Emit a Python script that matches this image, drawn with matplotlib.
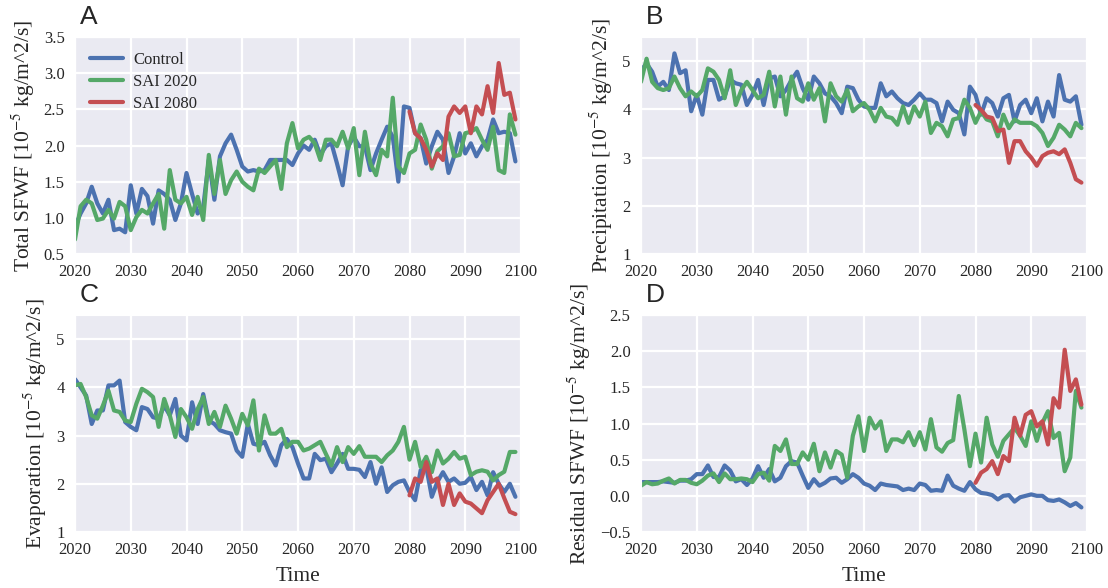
import numpy as np
import matplotlib
matplotlib.use("Agg")
import matplotlib.pyplot as plt
import seaborn as sns

years = np.arange(2020, 2100)
years_late = np.arange(2080, 2100)

# Panel A: Total SFWF
total_control = [0.88, 1.06, 1.20, 1.43, 1.20, 1.06, 1.25, 0.83, 0.85, 0.80,
                 1.45, 1.06, 1.40, 1.30, 0.92, 1.38, 1.33, 1.25, 0.97, 1.20,
                 1.62, 1.33, 1.06, 1.15, 1.80, 1.25, 1.85, 2.03, 2.15, 1.94,
                 1.71, 1.64, 1.66, 1.64, 1.66, 1.80, 1.80, 1.80, 1.80, 1.73,
                 1.89, 2.00, 1.94, 2.08, 1.87, 1.99, 2.03, 1.75, 1.45, 1.99,
                 2.12, 1.99, 1.99, 1.66, 1.89, 2.08, 2.26, 2.12, 1.50, 2.54,
                 2.52, 2.17, 2.10, 1.75, 1.99, 2.19, 2.08, 1.62, 1.85, 2.17,
                 1.89, 2.03, 1.85, 1.99, 2.08, 2.36, 2.17, 2.19, 2.17, 1.78]
total_sai2020 = [0.70, 1.16, 1.25, 1.20, 0.97, 0.99, 1.11, 0.99, 1.22, 1.16,
                 0.83, 1.01, 1.11, 1.06, 1.20, 1.33, 0.85, 1.66, 1.25, 1.20,
                 1.29, 1.04, 1.29, 0.97, 1.87, 1.33, 1.80, 1.33, 1.52, 1.64,
                 1.50, 1.43, 1.38, 1.68, 1.62, 1.71, 1.80, 1.40, 2.03, 2.31,
                 1.96, 2.08, 2.12, 2.03, 1.80, 2.08, 2.08, 1.99, 2.19, 1.96,
                 2.24, 1.59, 2.19, 1.75, 1.59, 1.94, 1.85, 2.66, 1.71, 1.62,
                 1.89, 1.94, 2.29, 2.08, 1.68, 1.92, 1.99, 2.17, 1.85, 1.87,
                 2.17, 2.19, 2.24, 2.08, 1.94, 2.26, 1.66, 1.62, 2.43, 2.15]
total_sai2080 = [2.47, 2.17, 2.10, 1.94, 1.71, 1.89, 1.80, 2.40, 2.54, 2.45,
                 2.54, 2.17, 2.54, 2.43, 2.82, 2.45, 3.14, 2.70, 2.73, 2.36]

# Panel B: Precipitation
precip_control = [4.81, 4.95, 4.78, 4.47, 4.57, 4.40, 5.16, 4.75, 4.81, 3.96,
                  4.30, 3.89, 4.61, 4.61, 4.20, 4.27, 4.61, 4.54, 4.51, 4.09,
                  4.30, 4.61, 4.09, 4.64, 4.68, 4.27, 4.40, 4.61, 4.78, 4.44,
                  4.20, 4.68, 4.54, 4.33, 4.27, 4.13, 3.92, 4.47, 4.44, 4.20,
                  4.06, 4.03, 4.03, 4.54, 4.27, 4.37, 4.23, 4.13, 4.09, 4.20,
                  4.33, 4.20, 4.20, 4.13, 3.75, 4.16, 3.99, 3.92, 3.48, 4.47,
                  4.30, 3.89, 4.23, 4.13, 3.85, 4.23, 4.30, 3.75, 4.09, 4.20,
                  3.92, 4.23, 3.75, 4.16, 3.85, 4.71, 4.20, 4.16, 4.27, 3.68]
precip_sai2020 = [4.57, 5.05, 4.57, 4.44, 4.40, 4.44, 4.68, 4.44, 4.27, 4.37,
                  4.27, 4.40, 4.85, 4.78, 4.61, 4.23, 4.81, 4.09, 4.40, 4.57,
                  4.40, 4.23, 4.30, 4.78, 4.06, 4.68, 3.89, 4.68, 4.23, 4.16,
                  4.54, 4.20, 4.44, 3.75, 4.54, 4.27, 4.16, 4.40, 3.96, 4.06,
                  4.13, 3.99, 3.75, 4.03, 3.85, 3.82, 3.68, 4.06, 3.72, 4.06,
                  3.85, 4.16, 3.51, 3.72, 3.65, 3.44, 3.79, 3.82, 4.20, 4.03,
                  3.72, 3.96, 3.79, 3.75, 3.44, 3.89, 3.61, 3.79, 3.72, 3.72,
                  3.72, 3.65, 3.51, 3.24, 3.41, 3.68, 3.58, 3.44, 3.72, 3.61]
precip_sai2080 = [4.09, 3.99, 3.85, 3.82, 3.55, 3.58, 2.89, 3.34, 3.34, 3.13,
                  3.00, 2.83, 3.03, 3.10, 3.13, 3.07, 3.17, 2.89, 2.55, 2.48]

# Panel C: Evaporation
evap_control = [4.17, 4.00, 3.83, 3.24, 3.52, 3.52, 4.04, 4.04, 4.14, 3.28,
                3.18, 3.11, 3.59, 3.55, 3.38, 3.35, 3.62, 3.42, 3.76, 3.00,
                2.90, 3.69, 3.24, 3.86, 3.31, 3.24, 3.11, 3.07, 3.04, 2.69,
                2.56, 3.24, 2.83, 2.80, 2.87, 2.59, 2.38, 2.80, 2.93, 2.76,
                2.42, 2.11, 2.11, 2.62, 2.49, 2.52, 2.24, 2.42, 2.62, 2.31,
                2.31, 2.29, 2.14, 2.45, 2.00, 2.34, 1.83, 1.97, 2.04, 2.07,
                1.83, 1.66, 2.28, 2.35, 1.73, 2.04, 2.24, 2.04, 2.11, 2.00,
                2.02, 2.14, 1.87, 2.04, 1.76, 2.24, 2.00, 1.83, 2.00, 1.73]
evap_sai2020 = [4.04, 4.07, 3.80, 3.42, 3.35, 3.62, 3.93, 3.52, 3.49, 3.31,
                3.28, 3.66, 3.97, 3.90, 3.80, 3.18, 3.76, 3.42, 2.97, 3.55,
                3.38, 3.14, 3.55, 3.80, 3.24, 3.49, 3.18, 3.62, 3.35, 3.04,
                3.45, 3.21, 3.73, 2.69, 3.42, 3.04, 3.04, 3.14, 2.76, 2.87,
                2.87, 2.69, 2.73, 2.80, 2.87, 2.62, 2.38, 2.76, 2.45, 2.76,
                2.62, 2.78, 2.56, 2.56, 2.56, 2.45, 2.59, 2.69, 2.87, 3.18,
                2.50, 2.87, 2.35, 2.56, 2.24, 2.69, 2.42, 2.52, 2.66, 2.52,
                2.56, 2.18, 2.25, 2.28, 2.25, 2.07, 2.18, 2.25, 2.66, 2.66]
evap_sai2080 = [1.76, 2.11, 2.04, 2.45, 2.04, 2.11, 1.56, 2.00, 1.56, 1.80,
                1.63, 1.59, 1.49, 1.39, 1.66, 1.83, 2.00, 1.70, 1.42, 1.37]

# Panel D: Residual SFWF
resid_control = [0.19, 0.19, 0.19, 0.19, 0.20, 0.19, 0.18, 0.21, 0.21, 0.23,
                 0.30, 0.30, 0.42, 0.26, 0.26, 0.42, 0.35, 0.20, 0.23, 0.15,
                 0.24, 0.41, 0.25, 0.37, 0.20, 0.25, 0.41, 0.48, 0.46, 0.28,
                 0.11, 0.23, 0.14, 0.18, 0.24, 0.25, 0.18, 0.23, 0.30, 0.25,
                 0.17, 0.14, 0.08, 0.17, 0.15, 0.14, 0.13, 0.08, 0.10, 0.08,
                 0.17, 0.15, 0.07, 0.08, 0.07, 0.28, 0.14, 0.10, 0.07, 0.19,
                 0.09, 0.04, 0.03, 0.01, -0.05, 0.00, 0.01, -0.08, -0.02, 0.00,
                 0.02, 0.00, 0.00, -0.06, -0.07, -0.05, -0.09, -0.14, -0.10, -0.16]
resid_sai2020 = [0.14, 0.19, 0.16, 0.17, 0.21, 0.24, 0.17, 0.22, 0.22, 0.18,
                 0.16, 0.21, 0.28, 0.31, 0.19, 0.31, 0.23, 0.23, 0.24, 0.23,
                 0.19, 0.30, 0.32, 0.21, 0.69, 0.62, 0.78, 0.44, 0.44, 0.60,
                 0.50, 0.72, 0.34, 0.60, 0.39, 0.62, 0.57, 0.25, 0.83, 1.10,
                 0.62, 1.08, 0.93, 1.03, 0.62, 0.78, 0.78, 0.74, 0.88, 0.70,
                 0.88, 0.64, 1.06, 0.67, 0.61, 0.73, 0.77, 1.38, 0.92, 0.41,
                 0.86, 0.46, 1.08, 0.71, 0.54, 0.76, 0.85, 0.94, 0.83, 0.69,
                 1.03, 0.76, 1.01, 1.17, 0.80, 0.87, 0.34, 0.53, 1.45, 1.22]
resid_sai2080 = [0.18, 0.32, 0.37, 0.48, 0.30, 0.55, 0.48, 1.08, 0.83, 1.12,
                 1.17, 0.96, 1.03, 0.71, 1.35, 1.22, 2.02, 1.45, 1.61, 1.26]

series_labels = ["Control", "SAI 2020", "SAI 2080"]
colors = ["#4C72B0", "#55A868", "#C44E52"]

sns.set_style("darkgrid")
plt.rcParams["font.family"] = ["Liberation Serif", "DejaVu Serif"]
plt.rcParams["mathtext.fontset"] = "stix"

fig = plt.figure(figsize=(11.08, 5.88), dpi=100)
W, H = 1108.0, 588.0
boxes = {
    "A": (75, 37, 521, 254),
    "B": (641, 37, 1087, 254),
    "C": (75, 315, 521, 532),
    "D": (641, 315, 1087, 532),
}
panels = [
    ("A", "Total SFWF", total_control, total_sai2020, total_sai2080,
     (0.5, 3.5), np.arange(0.5, 3.51, 0.5), "{:.1f}"),
    ("B", "Precipitation", precip_control, precip_sai2020, precip_sai2080,
     (1, 5.5), np.arange(1, 5.1, 1), "{:.0f}"),
    ("C", "Evaporation", evap_control, evap_sai2020, evap_sai2080,
     (1, 5.5), np.arange(1, 5.1, 1), "{:.0f}"),
    ("D", "Residual SFWF", resid_control, resid_sai2020, resid_sai2080,
     (-0.5, 2.5), np.arange(-0.5, 2.51, 0.5), "{:.1f}"),
]

for letter, name, c, s20, s80, ylim, yticks, fmt in panels:
    l, t, r, b = boxes[letter]
    ax = fig.add_axes([l / W, 1 - b / H, (r - l) / W, (b - t) / H])
    ax.plot(years, c, color=colors[0], lw=3, label=series_labels[0])
    ax.plot(years, s20, color=colors[1], lw=3, label=series_labels[1])
    ax.plot(years_late, s80, color=colors[2], lw=3, label=series_labels[2])
    ax.set_xlim(2020, 2100)
    ax.set_ylim(*ylim)
    ax.set_xticks(np.arange(2020, 2101, 10))
    ax.set_yticks(yticks)
    ax.set_yticklabels([fmt.format(v).replace("-", "\u2212") for v in yticks])
    ax.tick_params(labelsize=12, pad=4)
    ax.grid(True, color="white", lw=1.6)
    ax.set_ylabel(name + r" [10$^{-5}$ kg/m^2/s]", fontsize=15.5, labelpad=5)
    if letter in ("C", "D"):
        ax.set_xlabel("Time", fontsize=15.5, labelpad=6)
    ax.text(0.01, 1.035, letter, transform=ax.transAxes, fontsize=19,
            family=["Liberation Sans", "DejaVu Sans"], va="bottom", ha="left")
    if letter == "A":
        ax.legend(loc="upper left", frameon=False, fontsize=12,
                  handlelength=2.0, handletextpad=0.6, labelspacing=0.35,
                  borderaxespad=0.5)

fig.savefig("out.png", dpi=100)
